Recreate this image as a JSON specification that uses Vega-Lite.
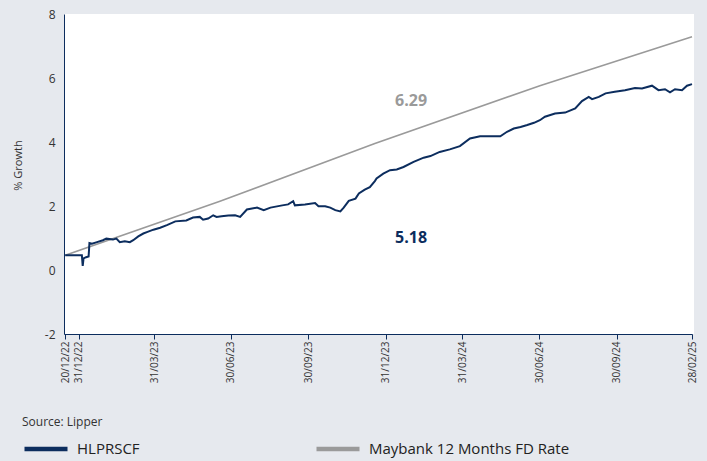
{
  "$schema": "https://vega.github.io/schema/vega-lite/v6.json",
  "width": 630,
  "height": 320,
  "autosize": "none",
  "padding": {"left": 64, "top": 14, "right": 13, "bottom": 127},
  "background": "#e6e9ee",
  "config": {"view": {"fill": "white", "stroke": null}, "font": "Open Sans"},
  "datasets": {
    "series": [
      {"date": "2022-12-20", "series": "Maybank 12 Months FD Rate", "value": 0.46},
      {"date": "2023-06-17", "series": "Maybank 12 Months FD Rate", "value": 2.15},
      {"date": "2023-12-18", "series": "Maybank 12 Months FD Rate", "value": 3.95},
      {"date": "2024-07-01", "series": "Maybank 12 Months FD Rate", "value": 5.76},
      {"date": "2025-02-28", "series": "Maybank 12 Months FD Rate", "value": 7.29},
      {"date": "2022-12-20", "series": "HLPRSCF", "value": 0.46},
      {"date": "2023-01-04", "series": "HLPRSCF", "value": 0.46},
      {"date": "2023-01-05", "series": "HLPRSCF", "value": 0.13},
      {"date": "2023-01-06", "series": "HLPRSCF", "value": 0.36},
      {"date": "2023-01-09", "series": "HLPRSCF", "value": 0.40},
      {"date": "2023-01-12", "series": "HLPRSCF", "value": 0.42},
      {"date": "2023-01-13", "series": "HLPRSCF", "value": 0.84},
      {"date": "2023-01-16", "series": "HLPRSCF", "value": 0.82},
      {"date": "2023-01-22", "series": "HLPRSCF", "value": 0.87},
      {"date": "2023-01-29", "series": "HLPRSCF", "value": 0.93},
      {"date": "2023-02-02", "series": "HLPRSCF", "value": 0.98},
      {"date": "2023-02-10", "series": "HLPRSCF", "value": 0.95},
      {"date": "2023-02-14", "series": "HLPRSCF", "value": 0.98},
      {"date": "2023-02-18", "series": "HLPRSCF", "value": 0.87},
      {"date": "2023-02-24", "series": "HLPRSCF", "value": 0.90},
      {"date": "2023-03-02", "series": "HLPRSCF", "value": 0.87},
      {"date": "2023-03-06", "series": "HLPRSCF", "value": 0.93},
      {"date": "2023-03-12", "series": "HLPRSCF", "value": 1.05},
      {"date": "2023-03-18", "series": "HLPRSCF", "value": 1.14},
      {"date": "2023-03-23", "series": "HLPRSCF", "value": 1.19},
      {"date": "2023-03-30", "series": "HLPRSCF", "value": 1.26},
      {"date": "2023-04-07", "series": "HLPRSCF", "value": 1.32},
      {"date": "2023-04-15", "series": "HLPRSCF", "value": 1.40},
      {"date": "2023-04-25", "series": "HLPRSCF", "value": 1.52},
      {"date": "2023-05-08", "series": "HLPRSCF", "value": 1.55},
      {"date": "2023-05-16", "series": "HLPRSCF", "value": 1.64},
      {"date": "2023-05-24", "series": "HLPRSCF", "value": 1.66},
      {"date": "2023-05-28", "series": "HLPRSCF", "value": 1.57},
      {"date": "2023-06-03", "series": "HLPRSCF", "value": 1.61},
      {"date": "2023-06-09", "series": "HLPRSCF", "value": 1.71},
      {"date": "2023-06-13", "series": "HLPRSCF", "value": 1.66},
      {"date": "2023-06-19", "series": "HLPRSCF", "value": 1.68},
      {"date": "2023-06-27", "series": "HLPRSCF", "value": 1.70},
      {"date": "2023-07-05", "series": "HLPRSCF", "value": 1.71},
      {"date": "2023-07-11", "series": "HLPRSCF", "value": 1.66},
      {"date": "2023-07-19", "series": "HLPRSCF", "value": 1.89},
      {"date": "2023-07-31", "series": "HLPRSCF", "value": 1.95},
      {"date": "2023-08-08", "series": "HLPRSCF", "value": 1.87},
      {"date": "2023-08-16", "series": "HLPRSCF", "value": 1.95},
      {"date": "2023-08-30", "series": "HLPRSCF", "value": 2.02},
      {"date": "2023-09-06", "series": "HLPRSCF", "value": 2.05},
      {"date": "2023-09-12", "series": "HLPRSCF", "value": 2.15},
      {"date": "2023-09-14", "series": "HLPRSCF", "value": 2.02},
      {"date": "2023-09-26", "series": "HLPRSCF", "value": 2.05},
      {"date": "2023-10-08", "series": "HLPRSCF", "value": 2.09},
      {"date": "2023-10-12", "series": "HLPRSCF", "value": 1.99},
      {"date": "2023-10-20", "series": "HLPRSCF", "value": 1.99},
      {"date": "2023-10-26", "series": "HLPRSCF", "value": 1.95},
      {"date": "2023-11-01", "series": "HLPRSCF", "value": 1.87},
      {"date": "2023-11-07", "series": "HLPRSCF", "value": 1.83},
      {"date": "2023-11-11", "series": "HLPRSCF", "value": 1.95},
      {"date": "2023-11-17", "series": "HLPRSCF", "value": 2.16},
      {"date": "2023-11-25", "series": "HLPRSCF", "value": 2.23},
      {"date": "2023-11-29", "series": "HLPRSCF", "value": 2.39},
      {"date": "2023-12-06", "series": "HLPRSCF", "value": 2.51},
      {"date": "2023-12-12", "series": "HLPRSCF", "value": 2.59},
      {"date": "2023-12-18", "series": "HLPRSCF", "value": 2.78},
      {"date": "2023-12-20", "series": "HLPRSCF", "value": 2.86},
      {"date": "2023-12-28", "series": "HLPRSCF", "value": 3.01},
      {"date": "2024-01-05", "series": "HLPRSCF", "value": 3.12},
      {"date": "2024-01-13", "series": "HLPRSCF", "value": 3.14},
      {"date": "2024-01-21", "series": "HLPRSCF", "value": 3.22},
      {"date": "2024-02-02", "series": "HLPRSCF", "value": 3.38},
      {"date": "2024-02-14", "series": "HLPRSCF", "value": 3.51},
      {"date": "2024-02-22", "series": "HLPRSCF", "value": 3.56},
      {"date": "2024-03-04", "series": "HLPRSCF", "value": 3.69},
      {"date": "2024-03-16", "series": "HLPRSCF", "value": 3.77},
      {"date": "2024-03-28", "series": "HLPRSCF", "value": 3.87},
      {"date": "2024-04-09", "series": "HLPRSCF", "value": 4.11},
      {"date": "2024-04-21", "series": "HLPRSCF", "value": 4.18},
      {"date": "2024-05-03", "series": "HLPRSCF", "value": 4.18},
      {"date": "2024-05-15", "series": "HLPRSCF", "value": 4.18},
      {"date": "2024-05-23", "series": "HLPRSCF", "value": 4.32},
      {"date": "2024-05-31", "series": "HLPRSCF", "value": 4.42},
      {"date": "2024-06-08", "series": "HLPRSCF", "value": 4.47},
      {"date": "2024-06-16", "series": "HLPRSCF", "value": 4.53},
      {"date": "2024-06-24", "series": "HLPRSCF", "value": 4.60},
      {"date": "2024-07-01", "series": "HLPRSCF", "value": 4.68},
      {"date": "2024-07-07", "series": "HLPRSCF", "value": 4.79},
      {"date": "2024-07-19", "series": "HLPRSCF", "value": 4.89},
      {"date": "2024-07-31", "series": "HLPRSCF", "value": 4.92},
      {"date": "2024-08-12", "series": "HLPRSCF", "value": 5.05},
      {"date": "2024-08-20", "series": "HLPRSCF", "value": 5.28},
      {"date": "2024-08-28", "series": "HLPRSCF", "value": 5.41},
      {"date": "2024-09-01", "series": "HLPRSCF", "value": 5.34},
      {"date": "2024-09-09", "series": "HLPRSCF", "value": 5.41},
      {"date": "2024-09-17", "series": "HLPRSCF", "value": 5.52},
      {"date": "2024-09-28", "series": "HLPRSCF", "value": 5.57},
      {"date": "2024-10-17", "series": "HLPRSCF", "value": 5.62},
      {"date": "2024-11-06", "series": "HLPRSCF", "value": 5.69},
      {"date": "2024-11-20", "series": "HLPRSCF", "value": 5.67},
      {"date": "2024-12-10", "series": "HLPRSCF", "value": 5.76},
      {"date": "2024-12-23", "series": "HLPRSCF", "value": 5.62},
      {"date": "2025-01-05", "series": "HLPRSCF", "value": 5.65},
      {"date": "2025-01-15", "series": "HLPRSCF", "value": 5.55},
      {"date": "2025-01-25", "series": "HLPRSCF", "value": 5.65},
      {"date": "2025-02-08", "series": "HLPRSCF", "value": 5.62},
      {"date": "2025-02-18", "series": "HLPRSCF", "value": 5.76},
      {"date": "2025-02-28", "series": "HLPRSCF", "value": 5.81}
    ],
    "labels": [
      {"date": "2024-01-30", "value": 5.28, "series": "Maybank 12 Months FD Rate", "label": "6.29"},
      {"date": "2024-01-30", "value": 0.99, "series": "HLPRSCF", "label": "5.18"}
    ]
  },
  "encoding": {
    "x": {
      "field": "date",
      "type": "quantitative",
      "scale": {
        "type": "linear",
        "zero": false,
        "nice": false,
        "domain": [1671408000000, 1672444800000, 1727654400000, 1740700800000],
        "range": [0, 14.5, 552.5, 628]
      },
      "axis": {
        "values": [1671494400000, 1672444800000, 1680220800000, 1688083200000, 1696032000000, 1703980800000, 1711843200000, 1719705600000, 1727654400000, 1740700800000],
        "labelExpr": "utcFormat(datum.value, '%d/%m/%y')",
        "labelAngle": -90,
        "labelFontSize": 10,
        "labelColor": "#333333",
        "labelOverlap": false,
        "labelFlush": false,
        "labelBound": false,
        "labelPadding": 2,
        "tickSize": 5,
        "tickColor": "#0c2d5e",
        "domainColor": "#0c2d5e",
        "grid": false,
        "title": null
      }
    },
    "y": {
      "field": "value",
      "type": "quantitative",
      "scale": {"domain": [-2, 8], "nice": false, "zero": false},
      "axis": {
        "values": [-2, 0, 2, 4, 6, 8],
        "labelExpr": "datum.value < 0 ? '-' + abs(datum.value) : '' + datum.value",
        "ticks": false,
        "labelPadding": 9,
        "labelFontSize": 12,
        "labelColor": "#333333",
        "domainColor": "#0c2d5e",
        "grid": false,
        "title": "% Growth",
        "titleFontSize": 11,
        "titleFontWeight": "normal",
        "titleColor": "#333333",
        "titleX": -46,
        "titleY": 151,
        "titleBaseline": "middle"
      }
    }
  },
  "layer": [
    {
      "data": {"name": "series", "format": {"parse": {"date": "date"}}},
      "transform": [{"filter": "datum.series === 'Maybank 12 Months FD Rate'"}],
      "mark": {"type": "line", "strokeWidth": 1.6},
      "encoding": {
        "color": {
          "field": "series",
          "type": "nominal",
          "scale": {"domain": ["HLPRSCF", "Maybank 12 Months FD Rate"], "range": ["#0c2d5e", "#9a9a9a"]},
          "legend": {
            "orient": "none",
            "legendX": -42,
            "legendY": 403,
            "direction": "horizontal",
            "title": "Source: Lipper",
            "titleFontSize": 12,
            "titleFontWeight": "normal",
            "titleColor": "#333333",
            "titlePadding": -4,
            "symbolType": "stroke",
            "symbolSize": 1849,
            "symbolStrokeWidth": 4.5,
            "labelFontSize": 15,
            "labelColor": "#222222",
            "labelOffset": 7,
            "labelLimit": 400,
            "columnPadding": 167
          }
        }
      }
    },
    {
      "data": {"name": "series", "format": {"parse": {"date": "date"}}},
      "transform": [{"filter": "datum.series === 'HLPRSCF'"}],
      "mark": {"type": "line", "strokeWidth": 2},
      "encoding": {"color": {"field": "series", "type": "nominal"}}
    },
    {
      "data": {"name": "labels", "format": {"parse": {"date": "date"}}},
      "mark": {"type": "text", "fontSize": 16, "fontWeight": "bold", "align": "center", "baseline": "middle"},
      "encoding": {
        "text": {"field": "label"},
        "color": {"field": "series", "type": "nominal", "legend": null}
      }
    }
  ]
}
